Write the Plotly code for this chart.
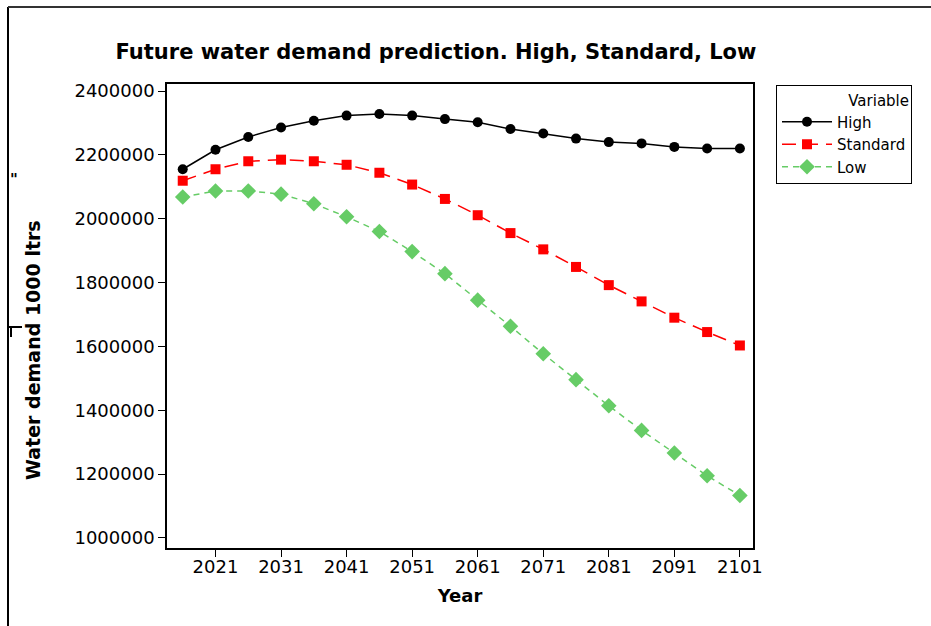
import plotly.graph_objects as go

years = [2016, 2021, 2026, 2031, 2036, 2041, 2046, 2051, 2056, 2061,
         2066, 2071, 2076, 2081, 2086, 2091, 2096, 2101]
high = [2155000, 2216000, 2256000, 2286000, 2307000, 2323000, 2328000, 2323000, 2312000,
        2302000, 2281000, 2267000, 2251000, 2240000, 2236000, 2225000, 2220000, 2220000]
standard = [2119000, 2155000, 2180000, 2185000, 2180000, 2169000, 2144000, 2107000, 2062000,
            2011000, 1955000, 1904000, 1849000, 1792000, 1741000, 1690000, 1645000, 1603000]
low = [2068000, 2087000, 2087000, 2077000, 2047000, 2006000, 1960000, 1897000, 1828000,
       1745000, 1663000, 1577000, 1496000, 1414000, 1337000, 1266000, 1195000, 1133000]
x_ticks = [2021, 2031, 2041, 2051, 2061, 2071, 2081, 2091, 2101]
y_ticks = [1000000, 1200000, 1400000, 1600000, 1800000, 2000000, 2200000, 2400000]

FONT = "DejaVu Sans"

fig = go.Figure()
fig.add_trace(go.Scatter(x=years, y=high, name="High", mode="lines+markers",
                         line=dict(color="black", width=1.5),
                         marker=dict(symbol="circle", size=10, color="black")))
fig.add_trace(go.Scatter(x=years, y=standard, name="Standard", mode="lines+markers",
                         line=dict(color="#ff0000", width=1.5, dash="14px,8px"),
                         marker=dict(symbol="square", size=10, color="#ff0000")))
fig.add_trace(go.Scatter(x=years, y=low, name="Low", mode="lines+markers",
                         line=dict(color="#66cc66", width=1.5, dash="6px,5px"),
                         marker=dict(symbol="diamond", size=12, color="#66cc66")))

L, R, T, B = 167, 178, 84, 78
W, H = 931, 626
pw, ph = W - L - R, H - T - B

def px(xp):
    return (xp - L) / pw

def py(yp):
    return (H - B - yp) / ph

fig.update_layout(
    width=W, height=H,
    margin=dict(l=L, r=R, t=T, b=B, pad=0, autoexpand=False),
    paper_bgcolor="white", plot_bgcolor="white",
    font=dict(family=FONT, color="black", size=18),
    title=dict(text="<b>Future water demand prediction. High, Standard, Low</b>",
               x=(436) / W, xanchor="center", y=1 - 52 / H, yanchor="middle",
               font=dict(family=FONT, size=21, color="black")),
    showlegend=True,
    legend=dict(x=px(776), y=py(85), xanchor="left", yanchor="top",
                bordercolor="black", borderwidth=1, bgcolor="white",
                font=dict(family=FONT, size=15, color="black"),
                title=dict(text="Variable", side="top right", font=dict(family=FONT, size=15)),
                tracegroupgap=0, itemwidth=50),
    shapes=[
        dict(type="line", xref="paper", yref="paper", x0=px(8), x1=px(8), y0=py(7), y1=py(626),
             line=dict(color="black", width=2)),
        dict(type="line", xref="paper", yref="paper", x0=px(8), x1=px(931), y0=py(7), y1=py(7),
             line=dict(color="#333333", width=2)),
        dict(type="line", xref="paper", yref="paper", x0=px(8), x1=px(22), y0=py(327), y1=py(327),
             line=dict(color="black", width=2)),
        dict(type="line", xref="paper", yref="paper", x0=px(11), x1=px(11), y0=py(327), y1=py(337),
             line=dict(color="black", width=2)),
    ],
    annotations=[
        dict(text="<b>\"</b>", xref="paper", yref="paper", x=px(14), y=py(180), showarrow=False,
             font=dict(family=FONT, size=15, color="black"), xanchor="center", yanchor="middle"),
        dict(text="<b>Water demand 1000 ltrs</b>", xref="paper", yref="paper",
             x=px(33), y=py(350), showarrow=False, textangle=-90,
             font=dict(family=FONT, size=19, color="black"), xanchor="center", yanchor="middle"),
    ],
)

fig.update_xaxes(range=[2013.6, 2103.0], tickvals=x_ticks, ticktext=[str(v) for v in x_ticks],
                 showgrid=False, zeroline=False, showline=True, mirror=True,
                 linecolor="black", linewidth=1.5, ticks="outside", ticklen=7, tickwidth=1,
                 tickcolor="black", tickfont=dict(family=FONT, size=18), ticklabelstandoff=-5,
                 title=dict(text="<b>Year</b>", standoff=13, font=dict(family=FONT, size=18)))
fig.update_yaxes(range=[968600, 2422000], tickvals=y_ticks, ticktext=[str(v) for v in y_ticks],
                 showgrid=False, zeroline=False, showline=True, mirror=True,
                 linecolor="black", linewidth=1.5, ticks="outside", ticklen=7, tickwidth=1,
                 tickcolor="black", tickfont=dict(family=FONT, size=18))

fig.write_html("out.html", post_script="document.body.style.margin='0';",
               config={"displayModeBar": False})
